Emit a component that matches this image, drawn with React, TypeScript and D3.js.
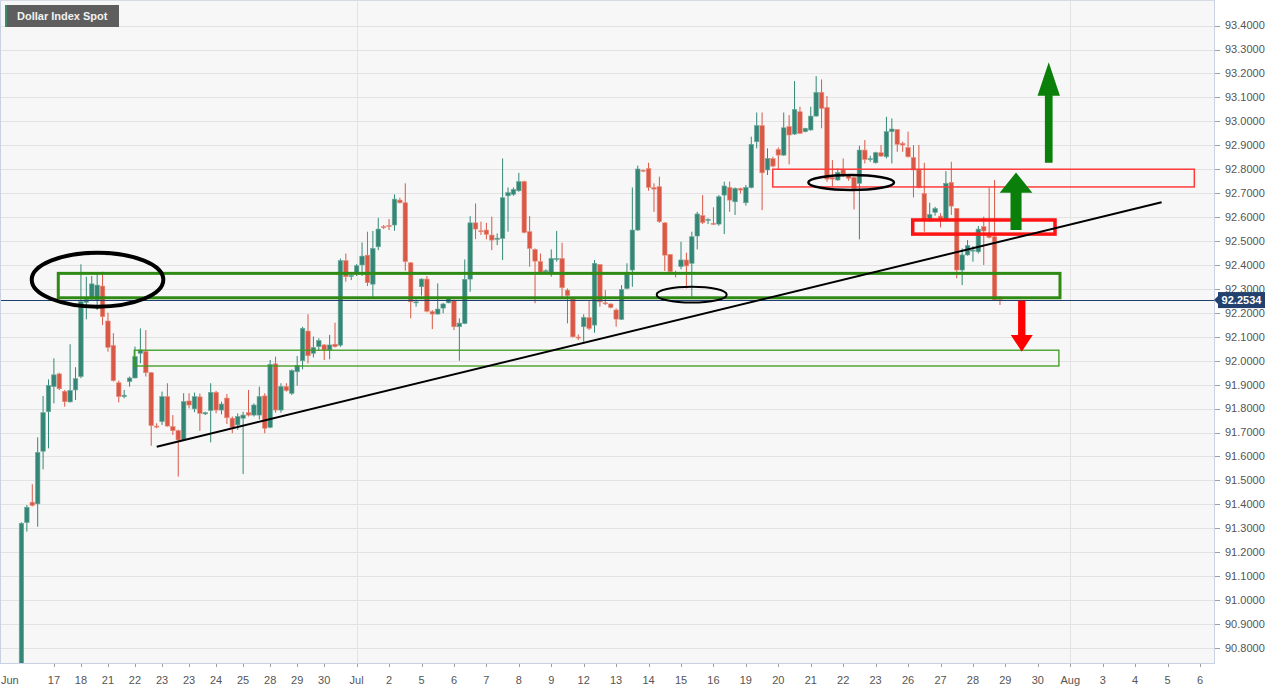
import React from 'react';
import * as d3 from 'd3';

// ---- Candle data (4h bars, Dollar Index Spot) ----
const opens = [
  90.55, 91.324, 91.409, 91.402, 91.622, 91.787, 91.892, 91.945, 91.872, 91.828,
  91.878, 91.934, 92.244, 92.257, 92.254, 92.312, 92.166, 92.064, 91.908, 91.850,
  91.913, 91.928, 92.031, 92.039, 91.950, 91.727, 91.746, 91.850, 91.725, 91.708,
  91.669, 91.832, 91.799, 91.849, 91.778, 91.792, 91.868, 91.794, 91.844, 91.760,
  91.732, 91.760, 91.783, 91.773, 91.773, 91.853, 91.722, 91.987, 91.794, 91.892,
  91.864, 91.954, 92.000, 92.124, 92.031, 92.059, 92.066, 92.045, 92.069, 92.065,
  92.418, 92.354, 92.365, 92.400, 92.441, 92.320, 92.476, 92.560, 92.565, 92.567,
  92.671, 92.660, 92.409, 92.242, 92.309, 92.341, 92.205, 92.195, 92.220, 92.242,
  92.251, 92.142, 92.156, 92.341, 92.576, 92.543, 92.546, 92.525, 92.507, 92.511,
  92.689, 92.695, 92.710, 92.748, 92.539, 92.465, 92.414, 92.372, 92.365, 92.423,
  92.427, 92.295, 92.258, 92.099, 92.142, 92.180, 92.149, 92.402, 92.242, 92.237,
  92.212, 92.173, 92.302, 92.379, 92.546, 92.796, 92.803, 92.723, 92.727, 92.576,
  92.444, 92.369, 92.393, 92.421, 92.407, 92.521, 92.606, 92.586, 92.574, 92.571,
  92.692, 92.724, 92.664, 92.719, 92.660, 92.723, 92.915, 92.982, 92.797, 92.844,
  92.883, 92.859, 92.978, 92.947, 93.040, 92.957, 92.964, 93.022, 93.121, 93.058,
  92.765, 92.755, 92.799, 92.776, 92.766, 92.741, 92.880, 92.841, 92.827, 92.869,
  92.852, 92.957, 92.966, 92.908, 92.890, 92.849, 92.797, 92.699, 92.588, 92.620,
  92.604, 92.588, 92.745, 92.636, 92.379, 92.442, 92.458, 92.455, 92.560, 92.522,
  92.518, 92.256
];
const highs = [
  91.325, 91.397, 91.484, 91.680, 91.853, 91.922, 92.010, 91.950, 91.878, 92.069,
  91.973, 92.403, 92.351, 92.354, 92.362, 92.372, 92.201, 92.115, 91.917, 91.878,
  91.934, 92.059, 92.135, 92.128, 91.952, 91.739, 91.871, 91.906, 91.773, 91.712,
  91.864, 91.864, 91.867, 91.863, 91.787, 91.906, 91.874, 91.829, 91.861, 91.767,
  91.780, 91.787, 91.878, 91.822, 91.892, 91.864, 92.003, 92.017, 91.906, 91.906,
  91.964, 92.020, 92.142, 92.194, 92.101, 92.094, 92.070, 92.108, 92.159, 92.427,
  92.448, 92.365, 92.404, 92.494, 92.539, 92.542, 92.597, 92.567, 92.592, 92.695,
  92.681, 92.741, 92.412, 92.256, 92.344, 92.354, 92.212, 92.323, 92.242, 92.267,
  92.256, 92.177, 92.423, 92.604, 92.657, 92.581, 92.576, 92.602, 92.532, 92.845,
  92.724, 92.724, 92.785, 92.752, 92.604, 92.469, 92.448, 92.382, 92.465, 92.542,
  92.493, 92.302, 92.260, 92.110, 92.194, 92.253, 92.421, 92.404, 92.295, 92.240,
  92.219, 92.316, 92.407, 92.724, 92.815, 92.799, 92.827, 92.741, 92.769, 92.578,
  92.446, 92.376, 92.497, 92.451, 92.539, 92.622, 92.692, 92.595, 92.641, 92.692,
  92.748, 92.748, 92.724, 92.723, 92.734, 92.936, 93.037, 93.037, 92.887, 92.852,
  92.891, 93.037, 93.026, 93.168, 93.061, 92.973, 93.061, 93.189, 93.175, 93.106,
  92.838, 92.803, 92.845, 92.780, 92.769, 92.898, 92.922, 92.856, 92.873, 92.901,
  93.019, 93.012, 92.968, 92.915, 92.957, 92.901, 92.901, 92.827, 92.660, 92.643,
  92.616, 92.792, 92.831, 92.638, 92.469, 92.504, 92.479, 92.563, 92.602, 92.724,
  92.755, 92.270
];
const lows = [
  90.50, 91.286, 91.391, 91.307, 91.546, 91.634, 91.822, 91.878, 91.808, 91.826,
  91.836, 91.927, 92.173, 92.251, 92.212, 92.149, 92.038, 91.913, 91.826, 91.843,
  91.892, 91.927, 91.989, 91.934, 91.645, 91.718, 91.732, 91.725, 91.690, 91.516,
  91.666, 91.801, 91.785, 91.707, 91.773, 91.659, 91.780, 91.776, 91.736, 91.697,
  91.711, 91.527, 91.767, 91.767, 91.755, 91.697, 91.718, 91.783, 91.783, 91.871,
  91.857, 91.896, 91.964, 91.989, 92.014, 92.041, 92.003, 92.006, 92.055, 92.058,
  92.330, 92.337, 92.354, 92.354, 92.312, 92.267, 92.462, 92.550, 92.546, 92.543,
  92.657, 92.376, 92.177, 92.226, 92.272, 92.202, 92.132, 92.193, 92.198, 92.240,
  92.128, 92.000, 92.153, 92.288, 92.508, 92.525, 92.507, 92.462, 92.483, 92.421,
  92.539, 92.689, 92.706, 92.532, 92.393, 92.240, 92.365, 92.368, 92.351, 92.414,
  92.258, 92.156, 92.097, 92.086, 92.079, 92.128, 92.117, 92.226, 92.233, 92.219,
  92.142, 92.170, 92.298, 92.309, 92.542, 92.788, 92.710, 92.622, 92.576, 92.375,
  92.369, 92.348, 92.382, 92.302, 92.267, 92.465, 92.571, 92.571, 92.567, 92.564,
  92.529, 92.622, 92.609, 92.699, 92.648, 92.720, 92.887, 92.629, 92.776, 92.808,
  92.799, 92.856, 92.820, 92.943, 92.947, 92.954, 92.961, 93.020, 92.971, 92.748,
  92.727, 92.752, 92.769, 92.752, 92.632, 92.507, 92.824, 92.831, 92.824, 92.852,
  92.845, 92.824, 92.873, 92.873, 92.849, 92.682, 92.720, 92.539, 92.581, 92.606,
  92.557, 92.586, 92.609, 92.344, 92.316, 92.439, 92.414, 92.448, 92.400, 92.511,
  92.251, 92.233
];
const closes = [
  91.321, 91.388, 91.396, 91.617, 91.783, 91.897, 91.941, 91.883, 91.829, 91.876,
  91.925, 92.247, 92.257, 92.321, 92.316, 92.184, 92.056, 91.917, 91.850, 91.856,
  91.928, 92.017, 92.045, 91.950, 91.729, 91.723, 91.850, 91.727, 91.708, 91.669,
  91.829, 91.815, 91.850, 91.780, 91.783, 91.868, 91.794, 91.819, 91.762, 91.722,
  91.767, 91.773, 91.773, 91.815, 91.850, 91.718, 91.985, 91.794, 91.892, 91.875,
  91.959, 91.981, 92.135, 92.021, 92.055, 92.084, 92.045, 92.066, 92.059, 92.418,
  92.351, 92.356, 92.397, 92.437, 92.326, 92.469, 92.550, 92.556, 92.561, 92.675,
  92.660, 92.414, 92.246, 92.246, 92.341, 92.207, 92.195, 92.216, 92.237, 92.260,
  92.142, 92.157, 92.340, 92.576, 92.550, 92.539, 92.528, 92.504, 92.512, 92.681,
  92.702, 92.716, 92.748, 92.536, 92.469, 92.416, 92.369, 92.376, 92.427, 92.427,
  92.305, 92.272, 92.100, 92.096, 92.181, 92.135, 92.407, 92.246, 92.238, 92.223,
  92.174, 92.298, 92.361, 92.546, 92.801, 92.792, 92.724, 92.717, 92.581, 92.441,
  92.372, 92.365, 92.421, 92.396, 92.518, 92.613, 92.577, 92.590, 92.570, 92.685,
  92.730, 92.671, 92.720, 92.713, 92.724, 92.904, 92.982, 92.785, 92.845, 92.813,
  92.859, 92.973, 92.943, 93.050, 92.950, 92.971, 93.022, 93.121, 93.054, 92.759,
  92.759, 92.787, 92.776, 92.762, 92.720, 92.880, 92.841, 92.844, 92.869, 92.855,
  92.957, 92.968, 92.904, 92.901, 92.852, 92.797, 92.724, 92.588, 92.611, 92.636,
  92.591, 92.741, 92.646, 92.379, 92.442, 92.481, 92.462, 92.550, 92.542, 92.515,
  92.254, 92.2534
];

// ---- Axis data ----
const xTickIdx = [-2.4, 6, 11, 16, 21, 26, 31, 36, 41, 46, 51, 56, 62, 68, 74, 80, 86, 92, 98,
  104, 110, 116, 122, 128, 134, 140, 146, 152, 158, 164, 170, 176, 182, 188, 194, 200, 206, 212, 218];
const xTickLabels = ['Jun', '17', '18', '21', '22', '23', '23', '24', '25', '28', '29', '30', 'Jul',
  '2', '5', '6', '7', '8', '9', '12', '13', '14', '15', '16', '19', '20', '21', '22', '23', '26', '27',
  '28', '29', '30', 'Aug', '3', '4', '5', '6'];
const monthStartIdx = [62, 194];
const yTickValues = [93.4, 93.3, 93.2, 93.1, 93.0, 92.9, 92.8, 92.7, 92.6, 92.5, 92.4, 92.3, 92.2,
  92.1, 92.0, 91.9, 91.8, 91.7, 91.6, 91.5, 91.4, 91.3, 91.2, 91.1, 91.0, 90.9, 90.8];
const lastPrice = 92.2534;
const title = 'Dollar Index Spot';

// ---- Drawing annotations (index / price coordinates) ----
const greenZoneThick = { i0: 6.81, i1: 192.1, p0: 92.365, p1: 92.263 };
const greenZoneThin = { i0: 20.87, i1: 191.9, p0: 92.044, p1: 91.978 };
const redZoneThin = { i0: 138.97, i1: 216.95, p0: 92.800, p1: 92.726 };
const redZoneThick = { i0: 164.86, i1: 191.18, p0: 92.588, p1: 92.529 };
const trendLine = { i0: 25.02, p0: 91.641, i1: 210.9, p1: 92.662 };
const ellipseBig = { i0: 1.9, i1: 26.24, p0: 92.451, p1: 92.226 };
const ellipseLow = { i0: 117.5, i1: 130.45, p0: 92.309, p1: 92.243 };
const ellipseMid = { i0: 145.55, i1: 161.4, p0: 92.776, p1: 92.713 };
const arrowUpSmall = { i: 183.97, tip: 92.786, headBase: 92.702, headHalf: 3.02, shaftHalf: 1.02, tail: 92.546 };
const arrowUpBig = { i: 190.02, tip: 93.247, headBase: 93.107, headHalf: 2.07, shaftHalf: 0.71, tail: 92.827 };
const arrowDown = { i: 185.03, tip: 92.038, headBase: 92.108, headHalf: 2.03, shaftHalf: 0.68, tail: 92.251 };

const W = 1281;
const H = 687;
const PLOT_R = 1214;
const PLOT_B = 663;

const UP = '#348776';
const UP_EDGE = '#6fa99b';
const DOWN = '#d95846';
const DOWN_EDGE = '#e8907f';
const FONT = '"Liberation Sans", Arial, Helvetica, sans-serif';

export default function App() {
  const x = d3.scaleLinear().domain([0, 218]).range([21.46, 1200]);
  const y = d3.scaleLinear().domain([90.8, 93.4]).range([648.0, 25.6]);
  const fmt = d3.format('.4f');
  const bw = 4.5;

  const rectOf = (r: { i0: number; i1: number; p0: number; p1: number }) => ({
    x: x(r.i0), y: y(r.p0), width: x(r.i1) - x(r.i0), height: y(r.p1) - y(r.p0),
  });
  const ellOf = (e: { i0: number; i1: number; p0: number; p1: number }) => ({
    cx: (x(e.i0) + x(e.i1)) / 2, cy: (y(e.p0) + y(e.p1)) / 2,
    rx: (x(e.i1) - x(e.i0)) / 2, ry: (y(e.p1) - y(e.p0)) / 2,
  });
  const arrowPts = (a: { i: number; tip: number; headBase: number; headHalf: number; shaftHalf: number; tail: number }) => {
    const pts: [number, number][] = [
      [x(a.i), y(a.tip)],
      [x(a.i + a.headHalf), y(a.headBase)],
      [x(a.i + a.shaftHalf), y(a.headBase)],
      [x(a.i + a.shaftHalf), y(a.tail)],
      [x(a.i - a.shaftHalf), y(a.tail)],
      [x(a.i - a.shaftHalf), y(a.headBase)],
      [x(a.i - a.headHalf), y(a.headBase)],
    ];
    return pts.map((p) => p.join(',')).join(' ');
  };

  const gT = rectOf(greenZoneThick);
  const gt = rectOf(greenZoneThin);
  const rt = rectOf(redZoneThin);
  const rT = rectOf(redZoneThick);
  const eB = ellOf(ellipseBig);
  const eL = ellOf(ellipseLow);
  const eM = ellOf(ellipseMid);
  const py = y(lastPrice);

  return (
    <div style={{ position: 'fixed', left: 0, top: 0, width: W, height: H, background: '#fff' }}>
      <svg width={W} height={H} style={{ display: 'block', fontFamily: FONT }}>
        <defs>
          <clipPath id="plotclip">
            <rect x={0} y={0} width={PLOT_R} height={PLOT_B} />
          </clipPath>
        </defs>
        <rect x={0} y={0} width={W} height={H} fill="#ffffff" />
        <rect x={0} y={0} width={PLOT_R} height={PLOT_B} fill="#f7f7f7" />

        {/* grid */}
        {yTickValues.map((v) => (
          <line key={'g' + v} x1={0} x2={PLOT_R} y1={Math.round(y(v)) + 0.5} y2={Math.round(y(v)) + 0.5} stroke="#e3e3e3" strokeWidth={1} />
        ))}
        {monthStartIdx.map((i) => (
          <line key={'m' + i} x1={Math.round(x(i)) + 0.5} x2={Math.round(x(i)) + 0.5} y1={0} y2={PLOT_B} stroke="#e3e3e3" strokeWidth={1} />
        ))}

        <g clipPath="url(#plotclip)">
          {/* candles */}
          {closes.map((c, i) => {
            const o = opens[i];
            const up = c >= o;
            const col = up ? UP : DOWN;
            const cx = x(i);
            const top = y(Math.max(o, c));
            const h = Math.max(1, Math.abs(y(o) - y(c)));
            return (
              <g key={'c' + i}>
                <line x1={cx} x2={cx} y1={y(highs[i])} y2={y(lows[i])} stroke={col} strokeWidth={1} />
                <rect x={cx - bw / 2} y={top} width={bw} height={h} fill={col} stroke={up ? UP_EDGE : DOWN_EDGE} strokeWidth={0.6} />
              </g>
            );
          })}

          {/* last price line */}
          <line x1={0} x2={PLOT_R} y1={Math.round(py) + 0.5} y2={Math.round(py) + 0.5} stroke="#203f6f" strokeWidth={1} />

          {/* annotations */}
          <rect {...gt} fill="none" stroke="#3a9a1c" strokeWidth={1.3} />
          <rect {...gT} fill="none" stroke="#2e8a12" strokeWidth={3} />
          <rect {...rt} fill="none" stroke="#ff3b3b" strokeWidth={1.5} />
          <rect {...rT} fill="none" stroke="#ff1414" strokeWidth={3.5} />
          <line x1={x(trendLine.i0)} y1={y(trendLine.p0)} x2={x(trendLine.i1)} y2={y(trendLine.p1)} stroke="#000" strokeWidth={2} />
          <ellipse {...eB} fill="none" stroke="#000" strokeWidth={4} />
          <ellipse {...eL} fill="none" stroke="#000" strokeWidth={2} />
          <ellipse {...eM} fill="none" stroke="#000" strokeWidth={2.5} />
          <polygon points={arrowPts(arrowUpSmall)} fill="#0a7f0a" />
          <polygon points={arrowPts(arrowUpBig)} fill="#0a7f0a" />
          <polygon points={arrowPts(arrowDown)} fill="#ff0000" />
        </g>

        {/* frame */}
        <line x1={0.5} x2={0.5} y1={0} y2={PLOT_B} stroke="#c9d1e2" />
        <line x1={0} x2={PLOT_R} y1={0.5} y2={0.5} stroke="#d6dbe7" />
        <line x1={PLOT_R + 0.5} x2={PLOT_R + 0.5} y1={0} y2={PLOT_B} stroke="#c9d1e2" />
        <line x1={0} x2={PLOT_R + 1} y1={PLOT_B + 0.5} y2={PLOT_B + 0.5} stroke="#c9d1e2" />

        {/* y axis */}
        {yTickValues.map((v) => (
          <g key={'y' + v}>
            <line x1={PLOT_R + 1} x2={PLOT_R + 6} y1={Math.round(y(v)) + 0.5} y2={Math.round(y(v)) + 0.5} stroke="#9aa0aa" />
            <text x={1225} y={y(v)} dy="0.35em" fontSize={11} fill="#555">{fmt(v)}</text>
          </g>
        ))}

        {/* x axis */}
        {xTickIdx.map((i, k) => (
          <g key={'x' + k}>
            {k > 0 && <line x1={Math.round(x(i)) + 0.5} x2={Math.round(x(i)) + 0.5} y1={PLOT_B + 1} y2={PLOT_B + 4} stroke="#9aa0aa" />}
            <text x={k === 0 ? 1 : x(i)} y={680} dy="0.35em" fontSize={11} fill="#555" textAnchor={k === 0 ? 'start' : 'middle'}>{xTickLabels[k]}</text>
          </g>
        ))}

        {/* last price tag */}
        <polygon points={`${PLOT_R},${py} ${PLOT_R + 5},${py - 5} ${PLOT_R + 5},${py + 5}`} fill="#23416e" />
        <rect x={PLOT_R + 4} y={py - 8} width={47} height={16} fill="#23416e" />
        <text x={PLOT_R + 27.5} y={py} dy="0.35em" fontSize={11} fontWeight="bold" fill="#fff" textAnchor="middle">{lastPrice.toFixed(4)}</text>

        {/* title */}
        <rect x={5} y={5} width={114} height={22} fill="#5e5e5e" />
        <rect x={5} y={5} width={2} height={22} fill="#3c8c6c" />
        <text x={17} y={16} dy="0.35em" fontSize={11} fontWeight="bold" fill="#f2f2f2">{title}</text>
      </svg>
    </div>
  );
}
